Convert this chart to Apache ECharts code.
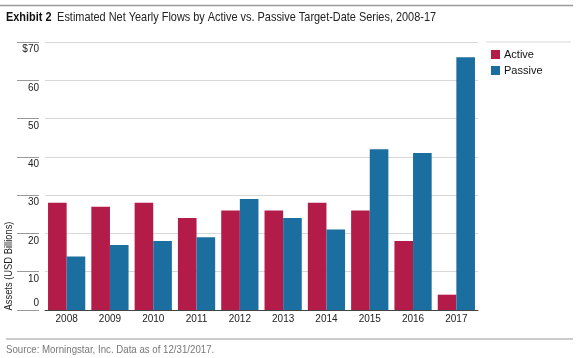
<!DOCTYPE html>
<html>
<head>
<meta charset="utf-8">
<script src="https://cdn.jsdelivr.net/npm/echarts@6/dist/echarts.min.js"></script>
<style>
html,body{margin:0;padding:0;background:#fff;}
#main{width:582px;height:358px;}
</style>
</head>
<body>
<div id="main"></div>
<script>
var categories = ['2008','2009','2010','2011','2012','2013','2014','2015','2016','2017'];
var activeValues = [28, 27, 28, 24, 26, 26, 28, 26, 18, 4];
var passiveValues = [14, 17, 18, 19, 29, 24, 21, 42, 41, 66];
var seriesNames = ['Active', 'Passive'];
var yTicks = {min: 0, max: 70, interval: 10};

var FONT = "'Liberation Sans', Arial, sans-serif";
var chart = echarts.init(document.getElementById('main'), null, {renderer: 'canvas'});
var option = {
  backgroundColor: '#fff',
  animation: false,
  legend: {
    orient: 'vertical', left: 486, top: 44, itemWidth: 9, itemHeight: 9, itemGap: 5,
    icon: 'rect',
    data: seriesNames,
    textStyle: {fontFamily: FONT, fontSize: 11, color: '#111', padding: [0,0,0,-1]}
  },
  grid: {left: 45, right: 104, top: 42, bottom: 48},
  xAxis: {
    type: 'category', data: categories,
    axisLine: {lineStyle: {color: '#444', width: 1}},
    axisTick: {show: false},
    axisLabel: {fontFamily: FONT, fontSize: 10, color: '#222', margin: 4}
  },
  yAxis: {
    type: 'value', min: yTicks.min, max: yTicks.max, interval: yTicks.interval,
    offset: 6,
    axisLine: {show: false},
    axisTick: {show: true, length: 22, lineStyle: {color: '#999', width: 1}},
    splitLine: {lineStyle: {color: '#d8d8d8', width: 1}},
    axisLabel: {
      margin: 0,
      formatter: function (v) {
        if (v === 0) return '{z|0}';
        if (v === 70) return '{a|$70}';
        return '{a|' + v + '}';
      },
      rich: {
        a: {fontFamily: FONT, fontSize: 10, color: '#222', padding: [15,0,0,0]},
        z: {fontFamily: FONT, fontSize: 10, color: '#222', padding: [0,0,13,0]}
      }
    }
  },
  series: [
    {name: seriesNames[0], type: 'bar', data: activeValues, barGap: '0%', barCategoryGap: '14%',
     itemStyle: {color: '#B31B48'}},
    {name: seriesNames[1], type: 'bar', data: passiveValues, barGap: '0%', barCategoryGap: '14%',
     itemStyle: {color: '#1B6EA0'}}
  ],
  graphic: [
    {type: 'line', shape: {x1: 0, y1: 5.5, x2: 573, y2: 5.5}, style: {stroke: '#999', lineWidth: 1.5}},
    {type: 'line', shape: {x1: 486, y1: 42, x2: 571, y2: 42}, style: {stroke: '#e4e4e4', lineWidth: 1.5}},
    {type: 'line', shape: {x1: 6, y1: 339, x2: 573, y2: 339}, style: {stroke: '#bbb', lineWidth: 1.5}},
    {type: 'text', x: 6, y: 17, scaleX: 0.84,
     style: {
       text: '{b|Exhibit 2}  {r|Estimated Net Yearly Flows by Active vs. Passive Target-Date Series, 2008-17}',
       textVerticalAlign: 'middle',
       rich: {
         b: {fontFamily: FONT, fontWeight: 'bold', fontSize: 13, fill: '#111'},
         r: {fontFamily: FONT, fontSize: 13, fill: '#222'}
       }
     }},
    {type: 'text', x: 6, y: 350, scaleX: 0.88, style: {text: 'Source: Morningstar, Inc. Data as of 12/31/2017.', fontFamily: FONT, fontSize: 11, fill: '#777', textVerticalAlign: 'middle'}},
    {type: 'text', x: 9, y: 266, rotation: Math.PI / 2, scaleX: 0.85, style: {text: 'Assets (USD Billions)', fontFamily: FONT, fontSize: 11, fill: '#222', textAlign: 'center', textVerticalAlign: 'middle'}}
  ]
};
chart.setOption(option);
</script>
</body>
</html>
